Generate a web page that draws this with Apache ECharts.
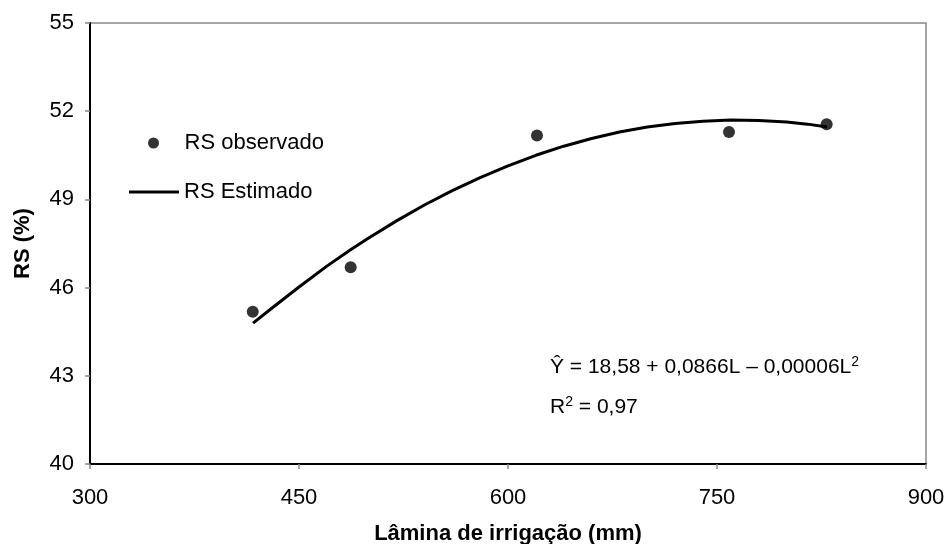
<!DOCTYPE html>
<html>
<head>
<meta charset="utf-8">
<script src="https://cdn.jsdelivr.net/npm/echarts@6/dist/echarts.min.js"></script>
<style>
html,body{margin:0;padding:0;background:#fff;}
#c{width:944px;height:544px;}
</style>
</head>
<body>
<div id="c"></div>
<script>
// Observed data (irrigation depth mm, RS %)
const obsL = [416.8, 487.1, 620.8, 758.6, 828.7];
const obsRS = [45.18, 46.69, 51.17, 51.29, 51.56];

// Estimated curve
const estL = [417, 430, 450, 470, 487, 500, 520, 540, 560, 580, 600, 620, 640, 660, 680, 700, 720, 740, 760, 780, 800, 815, 829];
const estRS = [44.79, 45.28, 46.02, 46.73, 47.29, 47.69, 48.27, 48.81, 49.30, 49.74, 50.14, 50.50, 50.81, 51.07, 51.29, 51.46, 51.58, 51.66, 51.70, 51.68, 51.63, 51.56, 51.46];

const xTicks = [300, 450, 600, 750, 900];
const yTicks = [40, 43, 46, 49, 52, 55];

const seriesNames = ['RS observado', 'RS Estimado'];
const xTitle = 'Lâmina de irrigação (mm)';
const yTitle = 'RS (%)';
const eqText = 'Ŷ = 18,58 + 0,0866L – 0,00006L';
const r2Text = ' = 0,97';

const FONT = "'Liberation Sans', Arial, sans-serif";

const chart = echarts.init(document.getElementById('c'), null, {renderer: 'canvas'});
chart.setOption({
  animation: false,
  backgroundColor: '#fff',
  textStyle: {fontFamily: FONT},
  grid: {
    left: 90, right: 18, top: 23, bottom: 80,
    containLabel: false,
    outerBoundsMode: 'none',
    show: true, borderColor: '#888', borderWidth: 1.5, backgroundColor: 'transparent'
  },
  xAxis: {
    type: 'value',
    min: xTicks[0], max: xTicks[xTicks.length - 1], interval: xTicks[1] - xTicks[0],
    axisLine: {show: true, lineStyle: {color: '#000', width: 2}},
    axisTick: {show: true, inside: false, length: 5, lineStyle: {color: '#888', width: 1.5}},
    axisLabel: {color: '#000', fontSize: 22, fontFamily: FONT, margin: 23},
    splitLine: {show: false},
    name: xTitle,
    nameLocation: 'middle',
    nameGap: 59,
    nameTextStyle: {color: '#000', fontSize: 22, fontWeight: 'bold', fontFamily: FONT}
  },
  yAxis: {
    type: 'value',
    min: yTicks[0], max: yTicks[yTicks.length - 1], interval: yTicks[1] - yTicks[0],
    axisLine: {show: true, lineStyle: {color: '#000', width: 2}},
    axisTick: {show: true, inside: false, length: 5, lineStyle: {color: '#888', width: 1.5}},
    axisLabel: {color: '#000', fontSize: 22, fontFamily: FONT, margin: 16},
    splitLine: {show: false},
    name: yTitle,
    nameLocation: 'middle',
    nameRotate: 90,
    nameGap: 56,
    nameTextStyle: {color: '#000', fontSize: 22, fontWeight: 'bold', fontFamily: FONT}
  },
  legend: [
    {
      data: [{name: seriesNames[0], icon: 'circle'}],
      left: 148, top: 132, padding: 0,
      itemWidth: 52, itemHeight: 11,
      symbolKeepAspect: true,
      textStyle: {color: '#000', fontSize: 22, fontFamily: FONT},
      selectedMode: false
    },
    {
      data: [{name: seriesNames[1], icon: 'rect'}],
      left: 129, top: 181, padding: 0,
      itemWidth: 50, itemHeight: 3,
      textStyle: {color: '#000', fontSize: 22, fontFamily: FONT},
      selectedMode: false
    }
  ],
  graphic: [
    {
      type: 'text', left: 550, top: 355,
      style: {
        text: '{a|' + eqText + '}{s|2}',
        rich: {
          a: {fontSize: 21, fontFamily: FONT, fill: '#000', lineHeight: 25},
          s: {fontSize: 14, fontFamily: FONT, fill: '#000', verticalAlign: 'top', lineHeight: 25}
        }
      }
    },
    {
      type: 'text', left: 550, top: 395,
      style: {
        text: '{a|R}{s|2}{a|' + r2Text + '}',
        rich: {
          a: {fontSize: 21, fontFamily: FONT, fill: '#000', lineHeight: 25},
          s: {fontSize: 14, fontFamily: FONT, fill: '#000', verticalAlign: 'top', lineHeight: 25}
        }
      }
    }
  ],
  series: [
    {
      name: seriesNames[0],
      type: 'scatter',
      data: obsL.map((l, i) => [l, obsRS[i]]),
      symbol: 'circle',
      symbolSize: 12,
      itemStyle: {color: '#000'},
      z: 3
    },
    {
      name: seriesNames[1],
      type: 'line',
      data: estL.map((l, i) => [l, estRS[i]]),
      symbol: 'none',
      showSymbol: false,
      smooth: false,
      lineStyle: {color: '#000', width: 3},
      itemStyle: {color: '#000'},
      z: 2
    }
  ]
});
</script>
</body>
</html>
